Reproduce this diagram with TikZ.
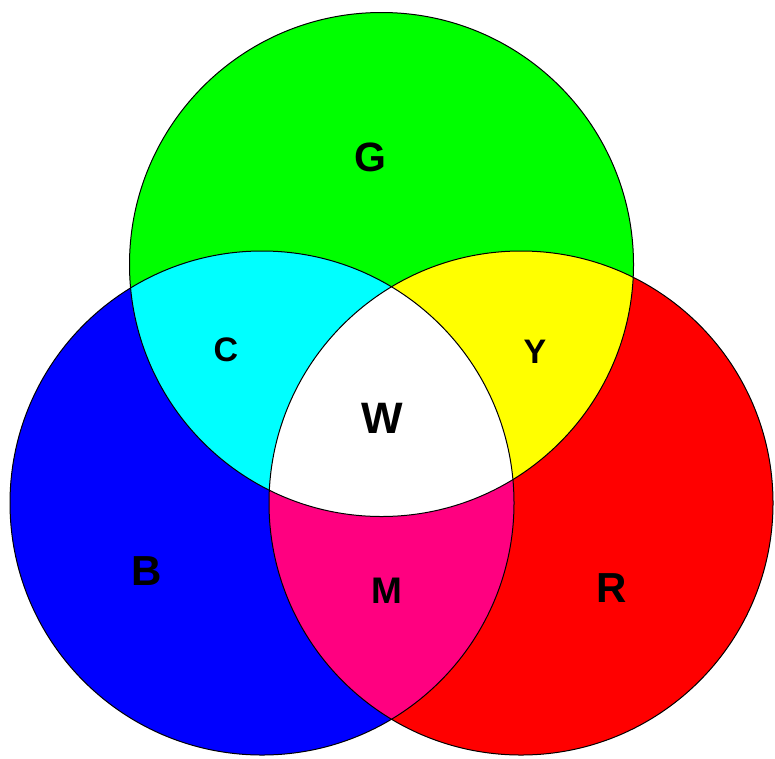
\documentclass[tikz,border=0pt]{standalone}
\usepackage{fontspec}
\setmainfont{Liberation Sans}
\definecolor{cG}{RGB}{0,255,0}
\definecolor{cB}{RGB}{0,0,255}
\definecolor{cR}{RGB}{255,0,0}
\definecolor{cC}{RGB}{0,255,255}
\definecolor{cY}{RGB}{255,255,0}
\definecolor{cM}{RGB}{255,0,128}
\begin{document}
\begin{tikzpicture}[x=1pt,y=-1pt,
  lbl/.style={inner sep=0pt,font=\bfseries,text=black}]
\useasboundingbox (0,0) rectangle (775,758);
\fill[white] (0,0) rectangle (775,758);
\def\rad{252}
\coordinate (g) at (381.5,264.5);
\coordinate (b) at (262,503);
\coordinate (r) at (521,503);
% base fills
\fill[cG] (g) circle[radius=\rad];
\fill[cB] (b) circle[radius=\rad];
\fill[cR] (r) circle[radius=\rad];
% pairwise overlaps
\begin{scope}
  \clip (g) circle[radius=\rad];
  \fill[cC] (b) circle[radius=\rad];
  \fill[cY] (r) circle[radius=\rad];
\end{scope}
\begin{scope}
  \clip (b) circle[radius=\rad];
  \fill[cM] (r) circle[radius=\rad];
  \clip (r) circle[radius=\rad];
  \fill[white] (g) circle[radius=\rad];
\end{scope}
% outlines
\draw[black,line width=1pt] (g) circle[radius=\rad];
\draw[black,line width=1pt] (b) circle[radius=\rad];
\draw[black,line width=1pt] (r) circle[radius=\rad];
% labels
\node[lbl,font=\bfseries\fontsize{41}{41}\selectfont] (lG) at (370,157) {G};
\node[lbl,font=\bfseries\fontsize{34}{34}\selectfont] (lC) at (226,350) {C};
\node[lbl,font=\bfseries\fontsize{34}{34}\selectfont] (lY) at (535,352) {Y};
\node[lbl,font=\bfseries\fontsize{44}{44}\selectfont] (lW) at (382,418) {W};
\node[lbl,font=\bfseries\fontsize{42}{42}\selectfont] (lB) at (147,571) {B};
\node[lbl,font=\bfseries\fontsize{37}{37}\selectfont] (lM) at (387,591) {M};
\node[lbl,font=\bfseries\fontsize{42}{42}\selectfont] (lR) at (612,588) {R};
\end{tikzpicture}
\end{document}
